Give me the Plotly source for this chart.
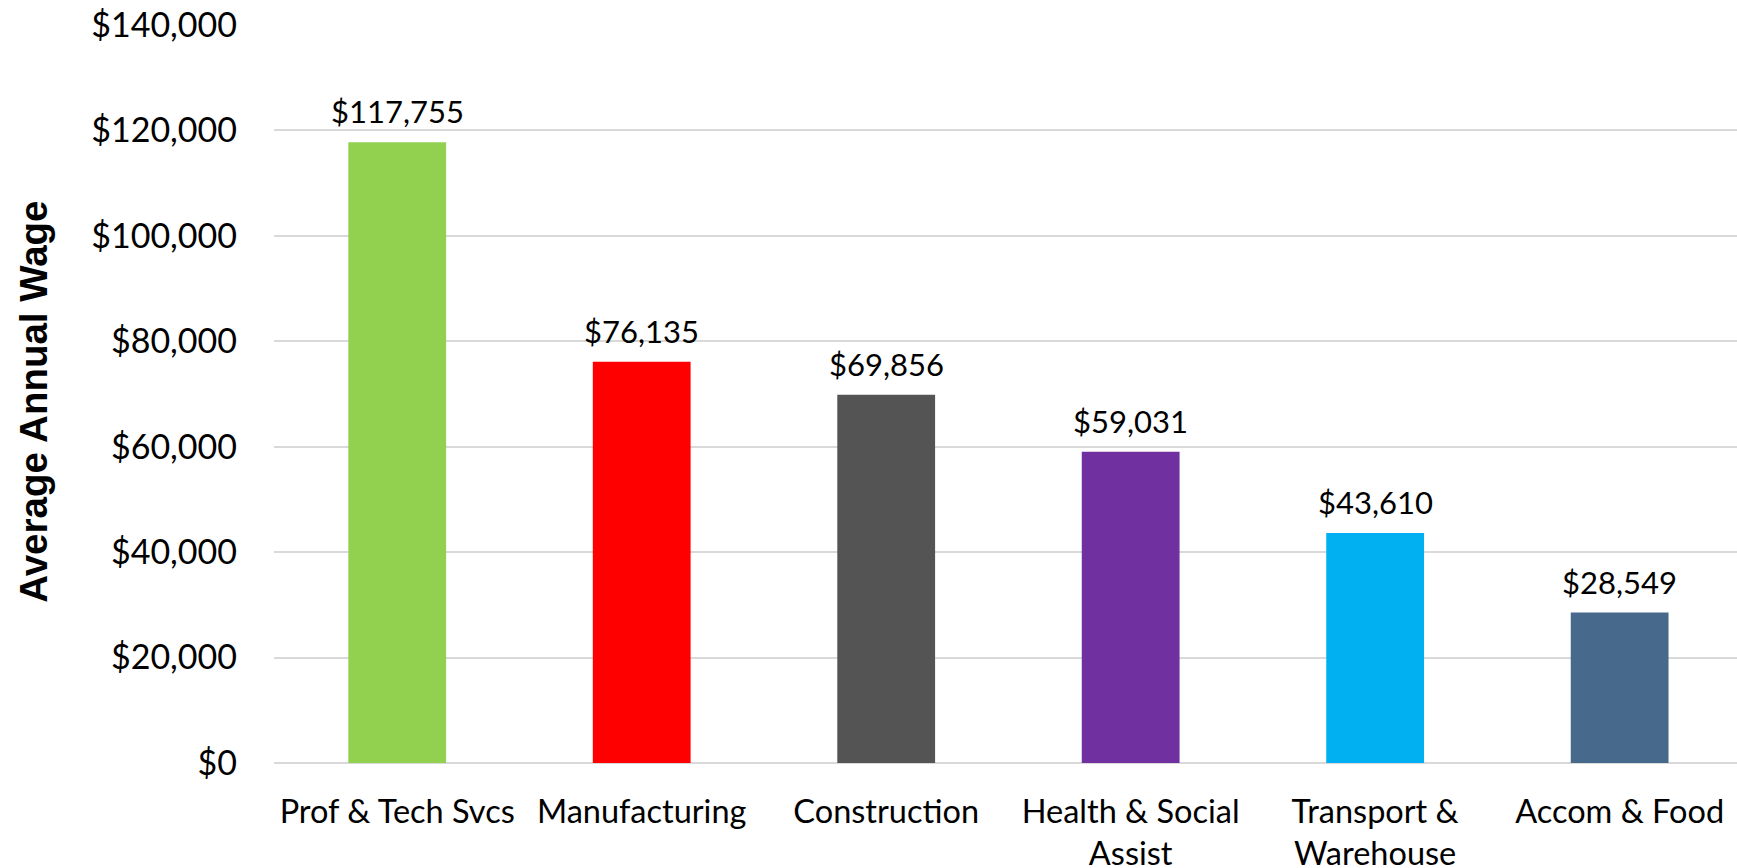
import plotly.graph_objects as go

# Average annual wage by industry
industries = [
    "Prof & Tech Svcs",
    "Manufacturing",
    "Construction",
    "Health & Social<br>Assist",
    "Transport &<br>Warehouse",
    "Accom & Food",
]
wages = [117755, 76135, 69856, 59031, 43610, 28549]
bar_colors = ["#92d050", "#ff0000", "#545454", "#7030a0", "#00b0f0", "#47698c"]

y_ticks = [0, 20000, 40000, 60000, 80000, 100000, 120000, 140000]
y_title = "Average Annual Wage"

LABEL_FONT = "Lato, 'Open Sans', sans-serif"

fig = go.Figure()
fig.add_trace(
    go.Bar(
        x=industries,
        y=wages,
        marker=dict(color=bar_colors, line=dict(width=0)),
        width=0.4,
        hoverinfo="skip",
    )
)

# value labels above each bar
for name, v in zip(industries, wages):
    fig.add_annotation(
        x=name,
        y=v,
        text=f"${v:,}",
        showarrow=False,
        yanchor="bottom",
        yshift=10,
        font=dict(family=LABEL_FONT, size=31, color="#000000"),
    )

# vertical axis title, placed in paper coordinates left of the tick labels
fig.add_annotation(
    xref="paper",
    yref="paper",
    x=-0.1645,
    y=0.49,
    xanchor="center",
    yanchor="middle",
    text=f"<b>{y_title}</b>",
    textangle=-90,
    showarrow=False,
    font=dict(family="'Liberation Sans', Arial, sans-serif", size=38.5, color="#000000"),
)

fig.update_layout(
    width=1737,
    height=868,
    margin=dict(l=274, r=0, t=25, b=105),
    paper_bgcolor="white",
    plot_bgcolor="white",
    showlegend=False,
    xaxis=dict(
        type="category",
        range=[-0.504, 5.48],
        showgrid=False,
        showline=False,
        ticks="",
        tickfont=dict(family=LABEL_FONT, size=32.5, color="#000000"),
        ticklabelstandoff=26,
        automargin=False,
    ),
    yaxis=dict(
        range=[0, 140000],
        tickvals=y_ticks,
        tickformat="$,.0f",
        showgrid=True,
        gridcolor="#d9d9d9",
        gridwidth=2,
        zeroline=True,
        zerolinecolor="#d9d9d9",
        zerolinewidth=2,
        showline=False,
        ticks="",
        tickfont=dict(family=LABEL_FONT, size=34, color="#000000"),
        ticklabelstandoff=36,
        automargin=False,
    ),
)

fig.write_html("out.html")
